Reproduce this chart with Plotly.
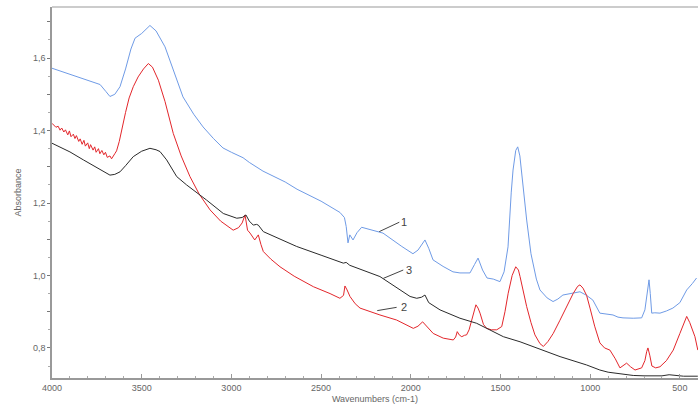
import plotly.graph_objects as go

# ---- data (wavenumber cm-1, absorbance) ----
wn_1 = [4000, 3900, 3800, 3732, 3700, 3677, 3650, 3621, 3590, 3560, 3537, 3500, 3454, 3420, 3370, 3320,
        3270, 3210, 3158, 3100, 3047, 3000, 2960, 2935, 2900, 2824, 2700, 2634, 2500, 2395, 2370, 2360,
        2350, 2340, 2322, 2300, 2274, 2155, 2050, 1988, 1960, 1935, 1921, 1900, 1876, 1820, 1765, 1726,
        1670, 1645, 1625, 1600, 1575, 1540, 1503, 1480, 1458, 1440, 1430, 1415, 1404, 1392, 1382, 1365,
        1354, 1330, 1300, 1280, 1240, 1207, 1180, 1152, 1100, 1057, 1020, 985, 946, 900, 873, 845, 817,
        760, 713, 695, 685, 672, 665, 657, 640, 611, 575, 539, 500, 462, 430, 407]
abs_1 = [1.572, 1.556, 1.540, 1.527, 1.508, 1.494, 1.500, 1.521, 1.570, 1.625, 1.655, 1.668, 1.690, 1.675,
         1.631, 1.560, 1.493, 1.445, 1.410, 1.378, 1.352, 1.340, 1.332, 1.325, 1.312, 1.288, 1.258, 1.238,
         1.205, 1.174, 1.160, 1.135, 1.090, 1.112, 1.098, 1.118, 1.133, 1.117, 1.080, 1.060, 1.070, 1.090,
         1.098, 1.075, 1.043, 1.025, 1.010, 1.007, 1.007, 1.030, 1.048, 1.015, 0.993, 0.990, 0.983, 1.010,
         1.079, 1.230, 1.291, 1.345, 1.355, 1.330, 1.283, 1.200, 1.153, 1.060, 0.990, 0.960, 0.938, 0.928,
         0.935, 0.946, 0.950, 0.955, 0.945, 0.932, 0.896, 0.892, 0.891, 0.885, 0.883, 0.882, 0.883, 0.905,
         0.941, 0.988, 0.950, 0.896, 0.897, 0.896, 0.902, 0.910, 0.925, 0.960, 0.978, 0.993]

wn_2 = [4000, 3990, 3978, 3966, 3955, 3946, 3934, 3925, 3912, 3903, 3894, 3881, 3872, 3864, 3851, 3843,
        3832, 3822, 3814, 3801, 3792, 3785, 3771, 3762, 3754, 3741, 3733, 3722, 3711, 3702, 3692, 3677,
        3668, 3650, 3640, 3625, 3612, 3590, 3570, 3547, 3520, 3490, 3463, 3440, 3407, 3370, 3324, 3280,
        3231, 3180, 3119, 3060, 2990, 2960, 2940, 2924, 2910, 2896, 2870, 2860, 2850, 2835, 2822, 2780,
        2729, 2650, 2543, 2450, 2395, 2375, 2367, 2355, 2339, 2310, 2283, 2172, 2079, 1986, 1960, 1934,
        1910, 1875, 1819, 1763, 1750, 1741, 1730, 1716, 1700, 1689, 1675, 1661, 1645, 1637, 1625, 1614,
        1595, 1577, 1550, 1521, 1493, 1475, 1457, 1435, 1415, 1400, 1391, 1370, 1354, 1330, 1308, 1280,
        1261, 1235, 1206, 1170, 1131, 1095, 1070, 1057, 1040, 1020, 1001, 975, 946, 920, 890, 860, 834,
        815, 797, 775, 750, 713, 695, 685, 678, 668, 656, 635, 611, 575, 537, 500, 475, 462, 445, 416, 400]
abs_2 = [1.420, 1.414, 1.409, 1.412, 1.401, 1.407, 1.396, 1.402, 1.388, 1.399, 1.383, 1.390, 1.378, 1.386,
         1.370, 1.377, 1.362, 1.373, 1.357, 1.366, 1.350, 1.361, 1.346, 1.355, 1.340, 1.350, 1.336, 1.345,
         1.333, 1.340, 1.326, 1.330, 1.322, 1.336, 1.344, 1.370, 1.401, 1.450, 1.490, 1.521, 1.548, 1.570,
         1.585, 1.575, 1.539, 1.480, 1.392, 1.330, 1.273, 1.225, 1.181, 1.150, 1.125, 1.132, 1.145, 1.167,
         1.125, 1.117, 1.098, 1.104, 1.112, 1.085, 1.066, 1.045, 1.024, 0.998, 0.969, 0.950, 0.937, 0.945,
         0.971, 0.960, 0.942, 0.922, 0.910, 0.891, 0.877, 0.854, 0.860, 0.872, 0.860, 0.840, 0.827, 0.822,
         0.830, 0.845, 0.836, 0.831, 0.835, 0.836, 0.850, 0.877, 0.910, 0.919, 0.910, 0.896, 0.865, 0.854,
         0.850, 0.850, 0.859, 0.900, 0.951, 1.000, 1.024, 1.015, 0.997, 0.950, 0.914, 0.870, 0.836, 0.812,
         0.804, 0.818, 0.840, 0.875, 0.914, 0.950, 0.970, 0.974, 0.965, 0.945, 0.910, 0.860, 0.814, 0.800,
         0.794, 0.770, 0.745, 0.752, 0.758, 0.748, 0.739, 0.745, 0.765, 0.790, 0.800, 0.780, 0.750, 0.745,
         0.748, 0.765, 0.794, 0.840, 0.875, 0.887, 0.870, 0.831, 0.794]

wn_3 = [4000, 3900, 3825, 3750, 3700, 3677, 3650, 3621, 3590, 3547, 3500, 3454, 3420, 3398, 3361, 3305,
        3250, 3212, 3138, 3045, 2970, 2940, 2919, 2900, 2878, 2860, 2850, 2822, 2636, 2500, 2376, 2360,
        2340, 2172, 2004, 1967, 1940, 1921, 1900, 1837, 1726, 1633, 1577, 1484, 1391, 1298, 1168, 1020,
        946, 900, 834, 760, 700, 650, 600, 560, 520, 480, 400]
abs_3 = [1.365, 1.341, 1.319, 1.298, 1.282, 1.277, 1.279, 1.286, 1.303, 1.328, 1.343, 1.351, 1.347, 1.342,
         1.319, 1.273, 1.250, 1.236, 1.208, 1.171, 1.158, 1.160, 1.167, 1.150, 1.139, 1.141, 1.139, 1.121,
         1.080, 1.056, 1.034, 1.036, 1.028, 0.997, 0.942, 0.937, 0.940, 0.946, 0.925, 0.905, 0.882, 0.868,
         0.854, 0.831, 0.817, 0.799, 0.776, 0.753, 0.739, 0.733, 0.728, 0.724, 0.723, 0.722, 0.723, 0.726,
         0.723, 0.722, 0.722]

y_tickvals = [0.8, 0.9, 1.0, 1.1, 1.2, 1.3, 1.4, 1.5, 1.6, 1.7]
y_ticktext = ["0,8", "", "1,0", "", "1,2", "", "1,4", "", "1,6", ""]
x_tickvals = [4000, 3500, 3000, 2500, 2000, 1500, 1000, 500]
x_ticktext = ["4000", "3500", "3000", "2500", "2000", "1500", "1000", "500"]

# curve labels: (text, text_x, text_y, line_x0, line_y0, line_x1, line_y1)
labels = [
    ("1", 2036, 1.1475, 2176, 1.121, 2064, 1.147),
    ("3", 2012, 1.015, 2153, 0.992, 2042, 1.015),
    ("2", 2040, 0.912, 2187, 0.903, 2079, 0.912),
]

fig = go.Figure()
fig.add_trace(go.Scatter(x=wn_1, y=abs_1, mode="lines", line=dict(color="#6f9be6", width=1), name="1"))
fig.add_trace(go.Scatter(x=wn_2, y=abs_2, mode="lines", line=dict(color="#e3262b", width=1), name="2"))
fig.add_trace(go.Scatter(x=wn_3, y=abs_3, mode="lines", line=dict(color="#2a2a2a", width=1), name="3"))

for t, tx, ty, x0, y0, x1, y1 in labels:
    fig.add_shape(type="line", x0=x0, y0=y0, x1=x1, y1=y1, xref="x", yref="y",
                  line=dict(color="#444", width=1))
    fig.add_annotation(x=tx, y=ty, text=t, showarrow=False, xanchor="center", yanchor="middle",
                       font=dict(size=11, color="#444"))

fig.add_shape(type="line", x0=0, x1=1, y0=1, y1=1, xref="paper", yref="paper",
              line=dict(color="#bbbbbb", width=1.5))

tickfont = dict(family="Liberation Sans, Arial, sans-serif", size=9, color="#666")
fig.update_layout(
    width=698, height=406,
    margin=dict(l=52, r=0, t=7, b=28),
    paper_bgcolor="white", plot_bgcolor="white",
    showlegend=False,
    font=dict(family="Liberation Sans, Arial, sans-serif", size=9, color="#666"),
    xaxis=dict(range=[4000, 399], showgrid=False, zeroline=False, showline=True,
               linecolor="#999", linewidth=1.5, ticks="inside", ticklen=4, tickcolor="#999",
               tickvals=x_tickvals, ticktext=x_ticktext, tickfont=tickfont,
               minor=dict(ticks="inside", ticklen=2, tickcolor="#aaa", dtick=100, tick0=0),
               title=dict(text="Wavenumbers (cm-1)", font=dict(size=9, color="#666"), standoff=4)),
    yaxis=dict(range=[0.717, 1.741], showgrid=False, zeroline=False, showline=True,
               linecolor="#999", linewidth=1.5, ticks="outside", ticklen=3, tickcolor="#777",
               tickvals=y_tickvals, ticktext=y_ticktext, tickfont=tickfont,
               minor=dict(ticks="outside", ticklen=2, tickcolor="#aaa", dtick=0.05, tick0=0),
               title=dict(text="Absorbance", font=dict(size=9, color="#666"), standoff=10)),
)

fig.write_html("out.html")
